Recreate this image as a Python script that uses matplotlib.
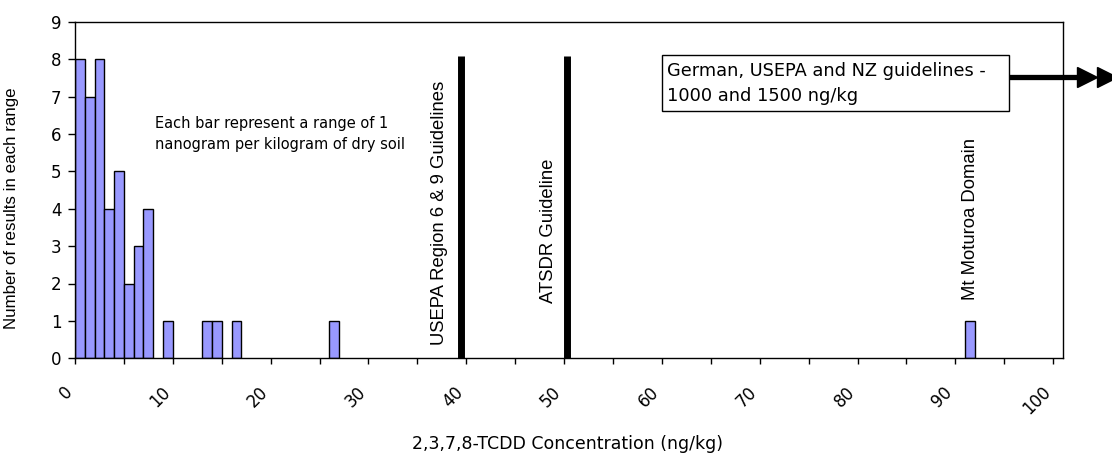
import matplotlib
matplotlib.use("Agg")
import matplotlib.pyplot as plt
from matplotlib.patches import Rectangle
from matplotlib.transforms import ScaledTranslation

# ---- data ----
bin_starts = [0, 1, 2, 3, 4, 5, 6, 7, 9, 13, 14, 16, 26, 91]
counts = [8, 7, 8, 4, 5, 2, 3, 4, 1, 1, 1, 1, 1, 1]
guideline_x = [39.5, 50.3]
guideline_height = 8.08
guideline_labels = ["USEPA Region 6 & 9 Guidelines", "ATSDR Guideline"]
x_ticklabels = ["0", "10", "20", "30", "40", "50", "60", "70", "80", "90", "100"]
y_ticks = [0, 1, 2, 3, 4, 5, 6, 7, 8, 9]

plt.rcParams['font.family'] = ['Liberation Sans', 'DejaVu Sans']
WIDE = ['DejaVu Sans']

fig = plt.figure(figsize=(11.12, 4.53), dpi=100)
ax = fig.add_axes([75/1112, 1 - 358.3/453, (1063-75)/1112, (358.3-21.7)/453])

ax.bar(bin_starts, counts, width=1.0, align='edge', color='#9999FF',
       edgecolor='black', linewidth=1.0, zorder=2)

for gx in guideline_x:
    ax.plot([gx, gx], [0, guideline_height], color='black', lw=5.0,
            solid_capstyle='butt', zorder=3)

ax.set_xlim(0, 101)
ax.set_ylim(0, 9)

major = [int(t) for t in x_ticklabels]
ax.set_xticks(major)
ax.set_xticklabels(x_ticklabels, rotation=45, ha='right', va='top',
                   rotation_mode='anchor', fontsize=12, family=WIDE)
ax.set_xticks(list(range(5, 101, 10)), minor=True)
ax.tick_params(axis='x', which='both', direction='out', length=4.3, width=1,
               pad=13.5)
shift = ScaledTranslation(-12/100, 0, fig.dpi_scale_trans)
for lab in ax.get_xticklabels():
    lab.set_transform(lab.get_transform() + shift)

ax.set_yticks(y_ticks)
ax.set_yticklabels([str(v) for v in y_ticks], fontsize=12, family=WIDE)
ax.tick_params(axis='y', direction='out', length=4.8, width=1, pad=5)
for sp in ax.spines.values():
    sp.set_linewidth(1.0)

ax.set_ylabel("Number of results in each range", fontsize=12.2)
ax.yaxis.set_label_coords((12-75)/988, (358.3-208)/336.6)
ax.yaxis.label.set_verticalalignment('center')
ax.set_xlabel("2,3,7,8-TCDD Concentration (ng/kg)", fontsize=12.5,
              family=WIDE)
ax.xaxis.set_label_coords(0.498, -(444-358.3)/336.6)
ax.xaxis.label.set_verticalalignment('center')

ax.text(8.2, 6.0, "Each bar represent a range of 1\nnanogram per kilogram of dry soil",
        fontsize=10.5, ha='left', va='center', linespacing=1.45, family=WIDE)

ax.text(37.3, 0.35, guideline_labels[0], rotation=90, ha='center', va='bottom',
        fontsize=13.3)
ax.text(48.4, 1.48, guideline_labels[1], rotation=90, ha='center', va='bottom',
        fontsize=13.3)
ax.text(91.5, 1.56, "Mt Moturoa Domain", rotation=90, ha='center', va='bottom',
        fontsize=13.3)

# guideline box with arrow
ax.add_patch(Rectangle((60.0, 6.6), 35.5, 1.5, facecolor='white',
                       edgecolor='black', lw=1.0, zorder=4))
ax.text(60.5, 7.35, "German, USEPA and NZ guidelines -\n1000 and 1500 ng/kg",
        ha='left', va='center', fontsize=12.8, linespacing=1.45, zorder=5,
        family=WIDE)
ax.plot([95.5, 103.0], [7.52, 7.52], color='black', lw=3.8, clip_on=False,
        solid_capstyle='butt', zorder=5)
ax.plot([103.5, 105.5], [7.52, 7.52], linestyle='none', marker='>',
        markersize=15, color='black', clip_on=False, zorder=5)

fig.savefig("out.png", dpi=100)
